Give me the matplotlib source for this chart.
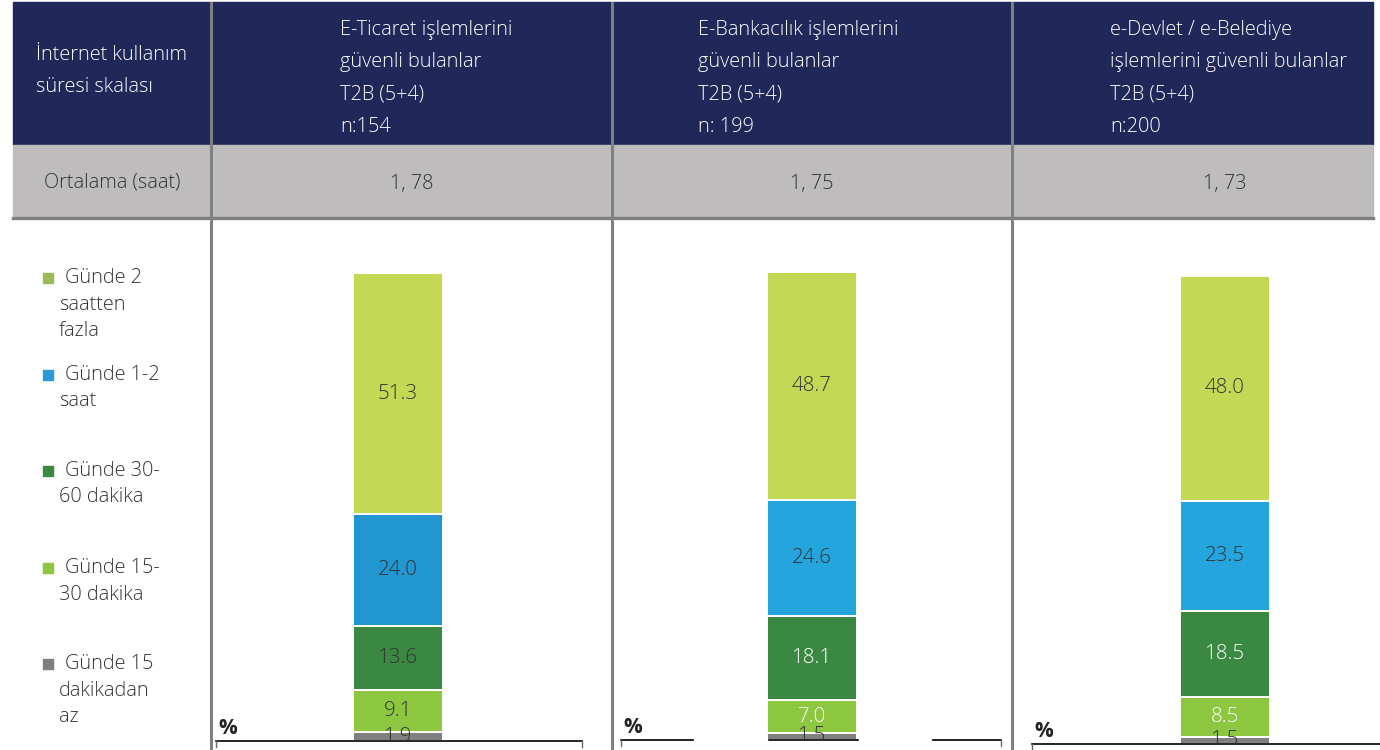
import matplotlib
matplotlib.use("Agg")
import matplotlib.pyplot as plt
from matplotlib.patches import Rectangle

plt.rcParams["font.family"] = ["Open Sans", "DejaVu Sans"]
plt.rcParams["font.weight"] = "light"

# Veri
kategoriler = ["Günde 2 saatten fazla", "Günde 1-2 saat", "Günde 30-60 dakika",
               "Günde 15-30 dakika", "Günde 15 dakikadan az"]
legend_satirlari = [["Günde 2", "saatten", "fazla"],
                    ["Günde 1-2", "saat"],
                    ["Günde 30-", "60 dakika"],
                    ["Günde 15-", "30 dakika"],
                    ["Günde 15", "dakikadan", "az"]]
eticaret = [51.3, 24.0, 13.6, 9.1, 1.9]
ebankacilik = [48.7, 24.6, 18.1, 7.0, 1.5]
edevlet = [48.0, 23.5, 18.5, 8.5, 1.5]
ortalama = ["1, 78", "1, 75", "1, 73"]
basliklar = [["E-Ticaret işlemlerini", "güvenli bulanlar", "T2B (5+4)", "n:154"],
             ["E-Bankacılık işlemlerini", "güvenli bulanlar", "T2B (5+4)", "n: 199"],
             ["e-Devlet / e-Belediye", "işlemlerini güvenli bulanlar", "T2B (5+4)", "n:200"]]
sol_baslik = ["İnternet kullanım", "süresi skalası"]
sol_alt = "Ortalama (saat)"

W, H = 1380, 750
NAVY = "#20285a"
GRAY_ROW = "#bebcbc"
LINE_GRAY = "#808080"
DARK = "#333333"
segment_renk = ["#c3d955", "#25a5dd", "#3a8841", "#8dc63f", "#808080"]
legend_renk = ["#9bbb59", "#2b9ad6", "#3a8841", "#8dc63f", "#808080"]

fig = plt.figure(figsize=(W / 100, H / 100), dpi=100)
bg = fig.add_axes([0, 0, 1, 1])
bg.set_xlim(0, W)
bg.set_ylim(H, 0)
bg.axis("off")

# Tablo başlığı
bg.add_patch(Rectangle((13, 2), 1360, 143, color=NAVY, zorder=1))
bg.add_patch(Rectangle((13, 145), 1360, 71, color=GRAY_ROW, zorder=1))
bg.plot([13, 1373], [217.5, 217.5], color=LINE_GRAY, lw=2.4, zorder=3)
for xv in [211, 612, 1012]:
    bg.plot([xv, xv], [3, H], color=LINE_GRAY, lw=2.2, zorder=3)

fs = 14.3
for i, s in enumerate(sol_baslik):
    bg.text(36, 55 + i * 32.5, s, color="white", fontsize=fs, va="center", ha="left", zorder=4)
bg.text(112, 183, sol_alt, color=DARK, fontsize=fs, va="center", ha="center", zorder=4)

baslik_x = [340, 698, 1110]
ortalama_x = [412, 812, 1225]
for j, satirlar in enumerate(basliklar):
    for i, s in enumerate(satirlar):
        bg.text(baslik_x[j], 30 + i * 32.5, s, color="white", fontsize=fs,
                va="center", ha="left", zorder=4)
    bg.text(ortalama_x[j], 184, ortalama[j], color=DARK, fontsize=fs,
            va="center", ha="center", zorder=4)

# Lejant
legend_y = [278, 375, 471, 568, 664]
for k, satirlar in enumerate(legend_satirlari):
    y0 = legend_y[k]
    bg.add_patch(Rectangle((43, y0 - 5), 10, 10, color=legend_renk[k], zorder=4))
    bg.text(65, y0, satirlar[0], color=DARK, fontsize=fs, va="center", ha="left")
    for i, s in enumerate(satirlar[1:]):
        bg.text(59, y0 + 26.5 * (i + 1), s, color=DARK, fontsize=fs, va="center", ha="left")

# Çubuk panelleri: (sol, sağ, alt, çubuk merkezi) piksel
paneller = [
    dict(veri=eticaret, sol=216, sag=582, alt=741, merkez=398, mavi="#2196d1",
         yazi=[DARK, DARK, DARK, DARK, DARK],
         cizgi=[(216, 582)], tik=[216, 582]),
    dict(veri=ebankacilik, sol=621, sag=1001, alt=740, merkez=812, mavi="#25a5dd",
         yazi=[DARK, DARK, "white", "white", DARK],
         cizgi=[(621, 693), (769, 858), (933, 1001)], tik=[621, 1001]),
    dict(veri=edevlet, sol=1032, sag=1418, alt=744, merkez=1225, mavi="#25a5dd",
         yazi=[DARK, DARK, "white", "white", DARK],
         cizgi=[(1032, 1380)], tik=[1032]),
]
BAR_PX = 90
OLCEK = 468  # 100% için piksel

for p in paneller:
    ax = fig.add_axes([p["sol"] / W, (H - p["alt"]) / H,
                       (p["sag"] - p["sol"]) / W, OLCEK / H])
    ax.set_xlim(p["sol"] - p["merkez"], p["sag"] - p["merkez"])
    ax.set_ylim(0, 100)
    ax.axis("off")
    renkler = list(segment_renk)
    renkler[1] = p["mavi"]
    alt = 0.0
    for k in range(len(p["veri"]) - 1, -1, -1):
        v = p["veri"][k]
        ax.bar(0, v, width=BAR_PX, bottom=alt, color=renkler[k],
               edgecolor="white", linewidth=1.4, zorder=2)
        ax.text(0, alt + v / 2, f"{v:.1f}", color=p["yazi"][k], fontsize=fs + 0.5,
                ha="center", va="center", zorder=5, clip_on=False)
        alt += v
    for a, b in p["cizgi"]:
        ax.plot([a - p["merkez"], b - p["merkez"]], [0, 0], color="black",
                lw=1.2, zorder=3, clip_on=False)
    for t in p["tik"]:
        ax.plot([t - p["merkez"], t - p["merkez"]], [0, -1.2], color="#666666",
                lw=1.0, zorder=3, clip_on=False)
    ax.text(p["sol"] - p["merkez"] + 2, 0.5, "%", fontsize=15, fontweight="bold",
            color="#222222", ha="left", va="bottom")

fig.savefig("out.png", dpi=100)
